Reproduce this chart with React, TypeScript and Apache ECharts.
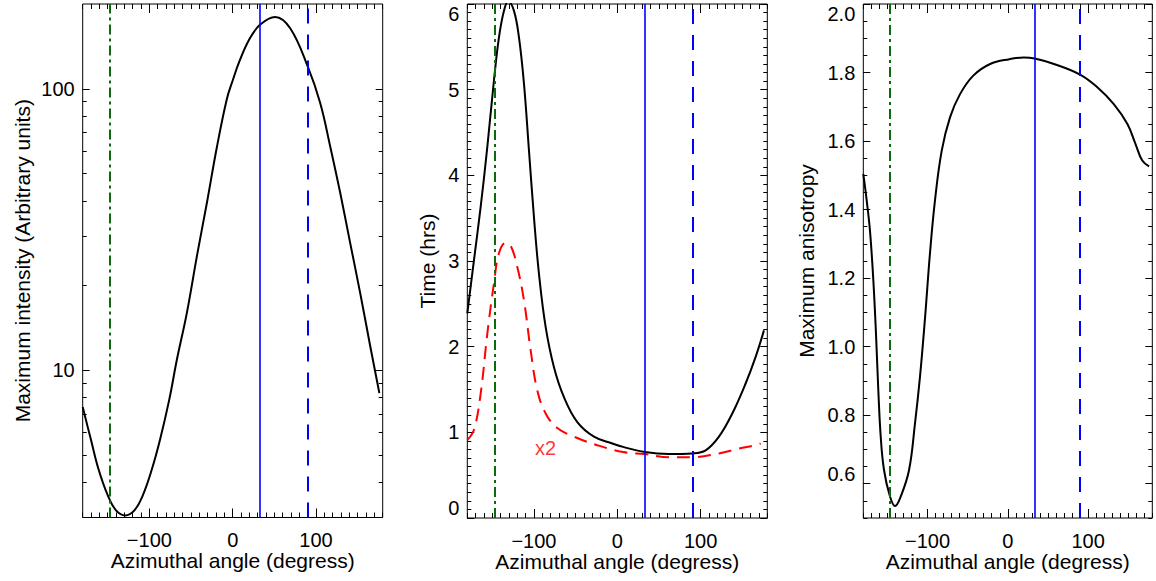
import React, { useEffect, useRef } from "react";
import * as echarts from "echarts";

// ---------- Data ----------
// Panel 1: maximum intensity (arbitrary units, log scale) vs azimuthal angle
const intensityAngles = [-180, -170, -161, -150, -140, -129, -118, -108, -97, -87, -76, -67, -55, -43, -31, -19, -7, 0, 8, 20, 33, 51, 69, 90, 105, 117, 129, 141, 153, 165, 176];
const intensityValues = [7.4, 5.65, 4.45, 3.6, 3.18, 3.05, 3.18, 3.59, 4.45, 5.7, 7.9, 10.9, 16, 25.4, 39.3, 62, 92, 107, 125, 150, 169, 180, 164, 120, 89, 62.4, 42.7, 28.3, 18.8, 12.2, 8.3];

// Panel 2: time (hrs) vs azimuthal angle (black solid) and the x2 curve (red dashed)
const timeAngles = [-180, -172, -164, -156, -148, -142, -136, -131, -124, -118, -112, -106, -100, -94, -86, -76, -64, -48, -28, -6, 7, 33, 62, 90, 106, 122, 138, 154, 166, 176];
const timeValues = [2.39, 3.01, 3.63, 4.33, 5.11, 5.61, 5.92, 6.03, 5.92, 5.61, 5.07, 4.29, 3.51, 2.85, 2.23, 1.76, 1.41, 1.12, 0.95, 0.87, 0.83, 0.77, 0.746, 0.754, 0.79, 0.95, 1.22, 1.57, 1.88, 2.19];
const timeX2Angles = [-180, -172, -164, -156, -148, -142, -134, -128, -120, -112, -104, -96, -86, -72, -52, -24, 7, 33, 62, 90, 122, 146, 166, 172];
const timeX2Values = [0.91, 1.03, 1.45, 2.15, 2.74, 3.09, 3.21, 3.18, 2.93, 2.54, 1.96, 1.49, 1.22, 1.05, 0.95, 0.85, 0.77, 0.746, 0.71, 0.71, 0.754, 0.81, 0.85, 0.87];
const x2LabelPosition = [-86, 0.82];

// Panel 3: maximum anisotropy vs azimuthal angle
const anisotropyAngles = [-180, -175.8, -171.7, -167.5, -164.2, -161.3, -158.3, -154.2, -147, -140.5, -133, -123, -115.6, -109.4, -103, -97, -90.7, -82.3, -72, -59.5, -43, -22, 2, 20, 33.5, 57.5, 90, 111.5, 132, 149, 159, 167.5, 176];
const anisotropyValues = [1.504, 1.427, 1.339, 1.194, 1.038, 0.873, 0.737, 0.64, 0.565, 0.535, 0.565, 0.64, 0.776, 0.912, 1.087, 1.271, 1.427, 1.572, 1.669, 1.737, 1.791, 1.825, 1.839, 1.844, 1.841, 1.825, 1.794, 1.757, 1.708, 1.65, 1.592, 1.543, 1.526];

// Reference angles (vertical lines): green dash-dot, blue solid, blue dashed
const referenceAngles = [-147, 33, 90];

// Tick values
const angleRange = [-180, 180];
const angleMajorTicks = [-100, 0, 100];
const angleMinorStep = 10;
const intensityRange = [3, 200];
const intensityMajorTicks = [10, 100];
const intensityMinorTicks = [4, 5, 6, 7, 8, 9, 20, 30, 40, 50, 60, 70, 80, 90];
const timeRange = [0, 6];
const timeMajorTicks = [0, 1, 2, 3, 4, 5, 6];
const timeMinorStep = 0.1;
const anisotropyRange = [0.5, 2.0];
const anisotropyMajorTicks = [0.6, 0.8, 1.0, 1.2, 1.4, 1.6, 1.8, 2.0];
const anisotropyMinorStep = 0.05;

const xTitle = "Azimuthal angle (degress)";
const yTitles = ["Maximum intensity (Arbitrary units)", "Time (hrs)", "Maximum anisotropy"];

// ---------- Styling ----------
const FONT = "'Liberation Sans', Arial, Helvetica, sans-serif";
const BLACK = "#000000";
const tickLine = { color: BLACK, width: 1 };
const hiddenLine = { show: false, onZero: false };

const grids = [
  { left: 82.7, top: 4, width: 300, height: 513.5 },
  { left: 467.3, top: 4, width: 300, height: 514 },
  { left: 863.3, top: 4, width: 289, height: 514 },
];

const fmtAngle = (v: number) => (v < 0 ? "\u2212" + Math.abs(v) : String(v));

function xAxesFor(gridIndex: number) {
  const base = {
    type: "value",
    gridIndex,
    min: angleRange[0],
    max: angleRange[1],
    splitLine: { show: false },
    axisLine: hiddenLine,
  };
  const major = (position: string, withLabels: boolean) => ({
    ...base,
    position,
    axisTick: { show: true, inside: true, length: 9, customValues: angleMajorTicks, lineStyle: tickLine },
    axisLabel: withLabels
      ? { show: true, customValues: angleMajorTicks, formatter: fmtAngle, margin: 12.5, fontSize: 20, color: BLACK, fontFamily: FONT }
      : { show: false },
    ...(withLabels
      ? {
          name: xTitle,
          nameLocation: "middle",
          nameGap: 32.5,
          nameMoveOverlap: false,
          nameTextStyle: { fontSize: 21, color: BLACK, fontFamily: FONT },
        }
      : {}),
  });
  const minor = (position: string) => ({
    ...base,
    position,
    interval: angleMinorStep,
    axisTick: { show: true, inside: true, length: 5, lineStyle: tickLine },
    axisLabel: { show: false },
  });
  return [major("bottom", true), minor("bottom"), major("top", false), minor("top")];
}

interface YCfg {
  min: number;
  max: number;
  major: number[];
  minorValues?: number[];
  minorStep?: number;
  formatter: (v: number) => string;
  name: string;
  nameGap: number;
  edgeAlign?: boolean;
}

function yAxesFor(gridIndex: number, c: YCfg) {
  const base = {
    type: "value",
    gridIndex,
    min: c.min,
    max: c.max,
    splitLine: { show: false },
    axisLine: hiddenLine,
  };
  const major = (position: string, withLabels: boolean) => ({
    ...base,
    position,
    axisTick: { show: true, inside: true, length: 7, customValues: c.major, lineStyle: tickLine },
    axisLabel: withLabels
      ? {
          show: true,
          customValues: c.major,
          formatter: c.formatter,
          margin: 8,
          fontSize: 20,
          color: BLACK,
          fontFamily: FONT,
          ...(c.edgeAlign ? { verticalAlignMinLabel: "bottom", verticalAlignMaxLabel: "top" } : {}),
        }
      : { show: false },
    ...(withLabels
      ? {
          name: c.name,
          nameLocation: "middle",
          nameGap: c.nameGap,
          nameMoveOverlap: false,
          nameTextStyle: { fontSize: 21, color: BLACK, fontFamily: FONT },
        }
      : {}),
  });
  const minor = (position: string) => ({
    ...base,
    position,
    ...(c.minorStep ? { interval: c.minorStep } : {}),
    axisTick: {
      show: true,
      inside: true,
      length: 4,
      lineStyle: tickLine,
      ...(c.minorValues ? { customValues: c.minorValues } : {}),
    },
    axisLabel: { show: false },
  });
  return [major("left", true), minor("left"), major("right", false), minor("right")];
}

const refLines = () => ({
  silent: true,
  symbol: "none",
  label: { show: false },
  emphasis: { disabled: true },
  data: [
    { xAxis: referenceAngles[0], lineStyle: { color: "#0b6b0b", width: 2, type: [10, 4, 3, 4] } },
    { xAxis: referenceAngles[1], lineStyle: { color: "#0000ff", width: 1.6, type: "solid" } },
    { xAxis: referenceAngles[2], lineStyle: { color: "#0000ff", width: 2, type: [15, 11] } },
  ],
});

const zip = (xs: number[], ys: number[]) => xs.map((x, i) => [x, ys[i]]);

function buildOption() {
  const lg = Math.log10;
  // Panel 1 y axes: hidden log data axis + value axes (in log10 space) that draw ticks/labels
  const intensityDataAxis = {
    type: "log",
    logBase: 10,
    gridIndex: 0,
    min: intensityRange[0],
    max: intensityRange[1],
    show: false,
    axisLine: hiddenLine,
  };
  const intensityTickAxes = yAxesFor(0, {
    min: lg(intensityRange[0]),
    max: lg(intensityRange[1]),
    major: intensityMajorTicks.map(lg),
    minorValues: intensityMinorTicks.map(lg),
    formatter: (v: number) => String(Math.round(Math.pow(10, v))),
    name: yTitles[0],
    nameGap: 50,
  });
  const timeAxes = yAxesFor(1, {
    min: timeRange[0],
    max: timeRange[1],
    major: timeMajorTicks,
    minorStep: timeMinorStep,
    formatter: (v: number) => String(Math.round(v)),
    name: yTitles[1],
    nameGap: 29,
    edgeAlign: true,
  });
  const anisAxes = yAxesFor(2, {
    min: anisotropyRange[0],
    max: anisotropyRange[1],
    major: anisotropyMajorTicks,
    minorStep: anisotropyMinorStep,
    formatter: (v: number) => v.toFixed(1),
    name: yTitles[2],
    nameGap: 46.5,
    edgeAlign: true,
  });

  const yAxis = [intensityDataAxis, ...intensityTickAxes, ...timeAxes, ...anisAxes];
  // indices: 0 log data axis (grid0); 1-4 grid0 tick axes; 5-8 grid1; 9-12 grid2
  const xAxis = [...xAxesFor(0), ...xAxesFor(1), ...xAxesFor(2)];

  const curve = {
    type: "line",
    showSymbol: false,
    symbol: "none",
    smooth: 0.4,
    silent: true,
    z: 3,
  };

  return {
    animation: false,
    backgroundColor: "#ffffff",
    grid: grids.map((g) => ({
      ...g,
      show: true,
      borderColor: BLACK,
      borderWidth: 1,
      backgroundColor: "transparent",
      containLabel: false,
      outerBoundsMode: "none",
    })),
    xAxis,
    yAxis,
    series: [
      {
        ...curve,
        name: "intensity",
        xAxisIndex: 0,
        yAxisIndex: 0,
        data: zip(intensityAngles, intensityValues),
        lineStyle: { color: BLACK, width: 2 },
        markLine: refLines(),
      },
      {
        ...curve,
        name: "time",
        xAxisIndex: 4,
        yAxisIndex: 5,
        data: zip(timeAngles, timeValues),
        lineStyle: { color: BLACK, width: 2 },
        markLine: refLines(),
      },
      {
        ...curve,
        name: "time x2",
        xAxisIndex: 4,
        yAxisIndex: 5,
        data: zip(timeX2Angles, timeX2Values),
        lineStyle: { color: "#ff0000", width: 2, type: [13, 8] },
      },
      {
        type: "scatter",
        name: "x2 label",
        xAxisIndex: 4,
        yAxisIndex: 5,
        data: [x2LabelPosition],
        symbolSize: 1,
        itemStyle: { color: "rgba(0,0,0,0)" },
        silent: true,
        label: { show: true, position: "inside", formatter: "x2", color: "#ff0000", fontSize: 20, fontFamily: FONT },
      },
      {
        ...curve,
        name: "anisotropy",
        xAxisIndex: 8,
        yAxisIndex: 9,
        data: zip(anisotropyAngles, anisotropyValues),
        lineStyle: { color: BLACK, width: 2 },
        markLine: refLines(),
      },
    ],
  };
}

export default function App() {
  const ref = useRef<HTMLDivElement>(null);
  useEffect(() => {
    if (!ref.current) return;
    const chart = echarts.init(ref.current, null, { renderer: "svg" });
    chart.setOption(buildOption() as any);
    return () => chart.dispose();
  }, []);
  return (
    <div
      ref={ref}
      style={{ position: "fixed", left: 0, top: 0, width: 1156, height: 581, background: "#ffffff" }}
    />
  );
}
